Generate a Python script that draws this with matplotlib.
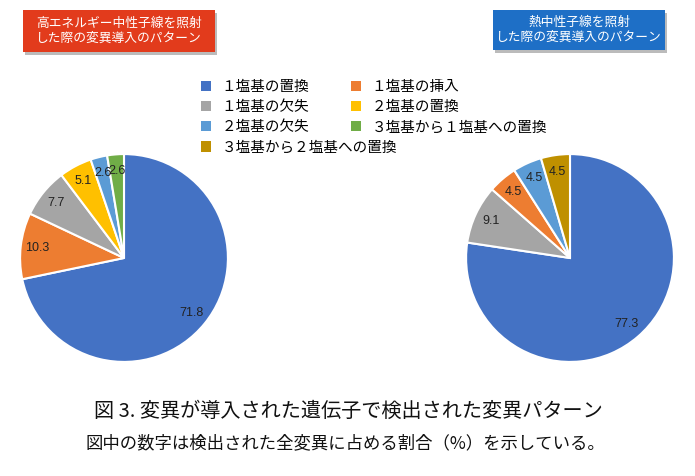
import matplotlib.pyplot as plt
from matplotlib.patches import Patch, Rectangle

plt.rcParams['font.family'] = ['Noto Sans CJK JP', 'DejaVu Sans']

# data
left_vals = [71.8, 10.3, 7.7, 5.1, 2.6, 2.6]
left_cols = ['#4472C4', '#ED7D31', '#A5A5A5', '#FFC000', '#5B9BD5', '#70AD47']
right_vals = [77.3, 9.1, 4.5, 4.5, 4.5]
right_cols = ['#4472C4', '#A5A5A5', '#ED7D31', '#5B9BD5', '#BF9000']

legend1_names = ['１塩基の置換', '１塩基の欠失', '２塩基の欠失', '３塩基から２塩基への置換']
legend1_cols = ['#4472C4', '#A5A5A5', '#5B9BD5', '#BF9000']
legend2_names = ['１塩基の挿入', '２塩基の置換', '３塩基から１塩基への置換']
legend2_cols = ['#ED7D31', '#FFC000', '#70AD47']

left_title = '高エネルギー中性子線を照射\nした際の変異導入のパターン'
right_title = '熱中性子線を照射\nした際の変異導入のパターン'
caption1 = '図 3. 変異が導入された遺伝子で検出された変異パターン'
caption2 = '図中の数字は検出された全変異に占める割合（%）を示している。'

W, H = 695, 476
fig = plt.figure(figsize=(W / 100, H / 100), dpi=100)


def px_axes(cx, cy, r):
    return fig.add_axes([(cx - r) / W, (H - cy - r) / H, 2 * r / W, 2 * r / H])


def draw_pie(ax, vals, cols):
    wedges, texts = ax.pie(vals, colors=cols, startangle=90, counterclock=False,
                           labels=[str(v) for v in vals], labeldistance=0.84,
                           wedgeprops=dict(edgecolor='white', linewidth=1.5))
    for t in texts:
        t.set_ha('center')
        t.set_va('center')
        t.set_fontsize(9)
        t.set_family(['Liberation Sans', 'DejaVu Sans'])
        t.set_color('#222222')
    ax.set_xlim(-1.02, 1.02)
    ax.set_ylim(-1.02, 1.02)


ax1 = px_axes(124, 258, 106)
draw_pie(ax1, left_vals, left_cols)
ax2 = px_axes(570, 258, 106)
draw_pie(ax2, right_vals, right_cols)

# title boxes
def title_box(x0, y0, x1, y1, color, text):
    fig.patches.append(Rectangle((x0 / W + 0.003, 1 - y1 / H - 0.006), (x1 - x0) / W, (y1 - y0) / H,
                                 transform=fig.transFigure, facecolor='#bbbbbb', edgecolor='none'))
    fig.patches.append(Rectangle((x0 / W, 1 - y1 / H), (x1 - x0) / W, (y1 - y0) / H,
                                 transform=fig.transFigure, facecolor=color, edgecolor='none'))
    fig.text((x0 + x1) / 2 / W, 1 - (y0 + y1) / 2 / H, text, color='white', fontsize=9.2,
             ha='center', va='center', linespacing=1.2)


title_box(23, 10, 215, 52, '#E23B1C', left_title)
title_box(493, 10, 665, 50, '#1E6FC6', right_title)

# legends
h1 = [Patch(facecolor=c) for c in legend1_cols]
h2 = [Patch(facecolor=c) for c in legend2_cols]
fig.legend(h1, legend1_names, loc='upper left', bbox_to_anchor=(188 / W, 1 - 67 / H), frameon=False,
           fontsize=10.5, handlelength=0.7, handleheight=0.7, handletextpad=0.7, labelspacing=0.42)
fig.legend(h2, legend2_names, loc='upper left', bbox_to_anchor=(338 / W, 1 - 67 / H), frameon=False,
           fontsize=10.5, handlelength=0.7, handleheight=0.7, handletextpad=0.7, labelspacing=0.42)

fig.text(348 / W, 1 - 411 / H, caption1, fontsize=14.5, ha='center', va='center', color='#111111')
fig.text(345 / W, 1 - 443 / H, caption2, fontsize=12.5, ha='center', va='center', color='#111111')

fig.savefig('out.png', dpi=100, facecolor='white')
